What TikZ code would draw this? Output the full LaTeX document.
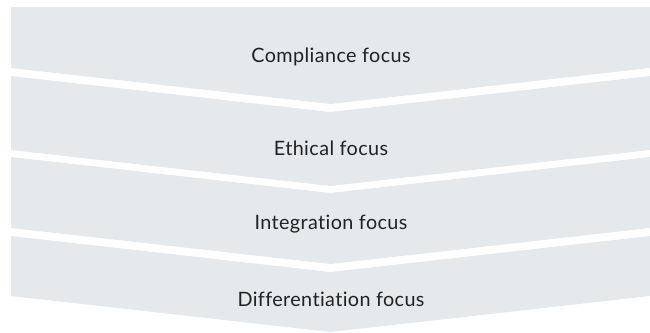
\documentclass[tikz,border=0pt]{standalone}
\usepackage{fontspec}
\setmainfont[LetterSpace=2,Ligatures=NoCommon]{Lato}
\definecolor{bandgray}{HTML}{E6E9EC}
\definecolor{txt}{HTML}{222222}
\begin{document}
\begin{tikzpicture}[x=1pt,y=-1pt,
  band/.style={fill=bandgray,draw=none},
  lbl/.style={text=txt,font=\fontsize{19.8}{23}\selectfont,inner sep=0pt,anchor=center}]
\useasboundingbox (0,0) rectangle (650,332);
\fill[white] (0,0) rectangle (650,332);
% band 1
\fill[band] (11,7) -- (650,7) -- (650,68) -- (330.5,104) -- (11,68) -- cycle;
% band 2
\fill[band] (11,76) -- (330.5,112) -- (650,76) -- (650,150) -- (330.5,186) -- (11,150) -- cycle;
% band 3
\fill[band] (11,157) -- (330.5,193) -- (650,157) -- (650,228) -- (330.5,264) -- (11,228) -- cycle;
% band 4
\fill[band] (11,236) -- (330.5,272) -- (650,236) -- (650,296) -- (330.5,332) -- (11,296) -- cycle;
\node[lbl] (c) at (331,57) {Compliance focus};
\node[lbl] (e) at (331,148) {Ethical focus};
\node[lbl] (i) at (331,224) {Integration focus};
\node[lbl] (d) at (331,299) {Differentiation focus};
\end{tikzpicture}
\end{document}
